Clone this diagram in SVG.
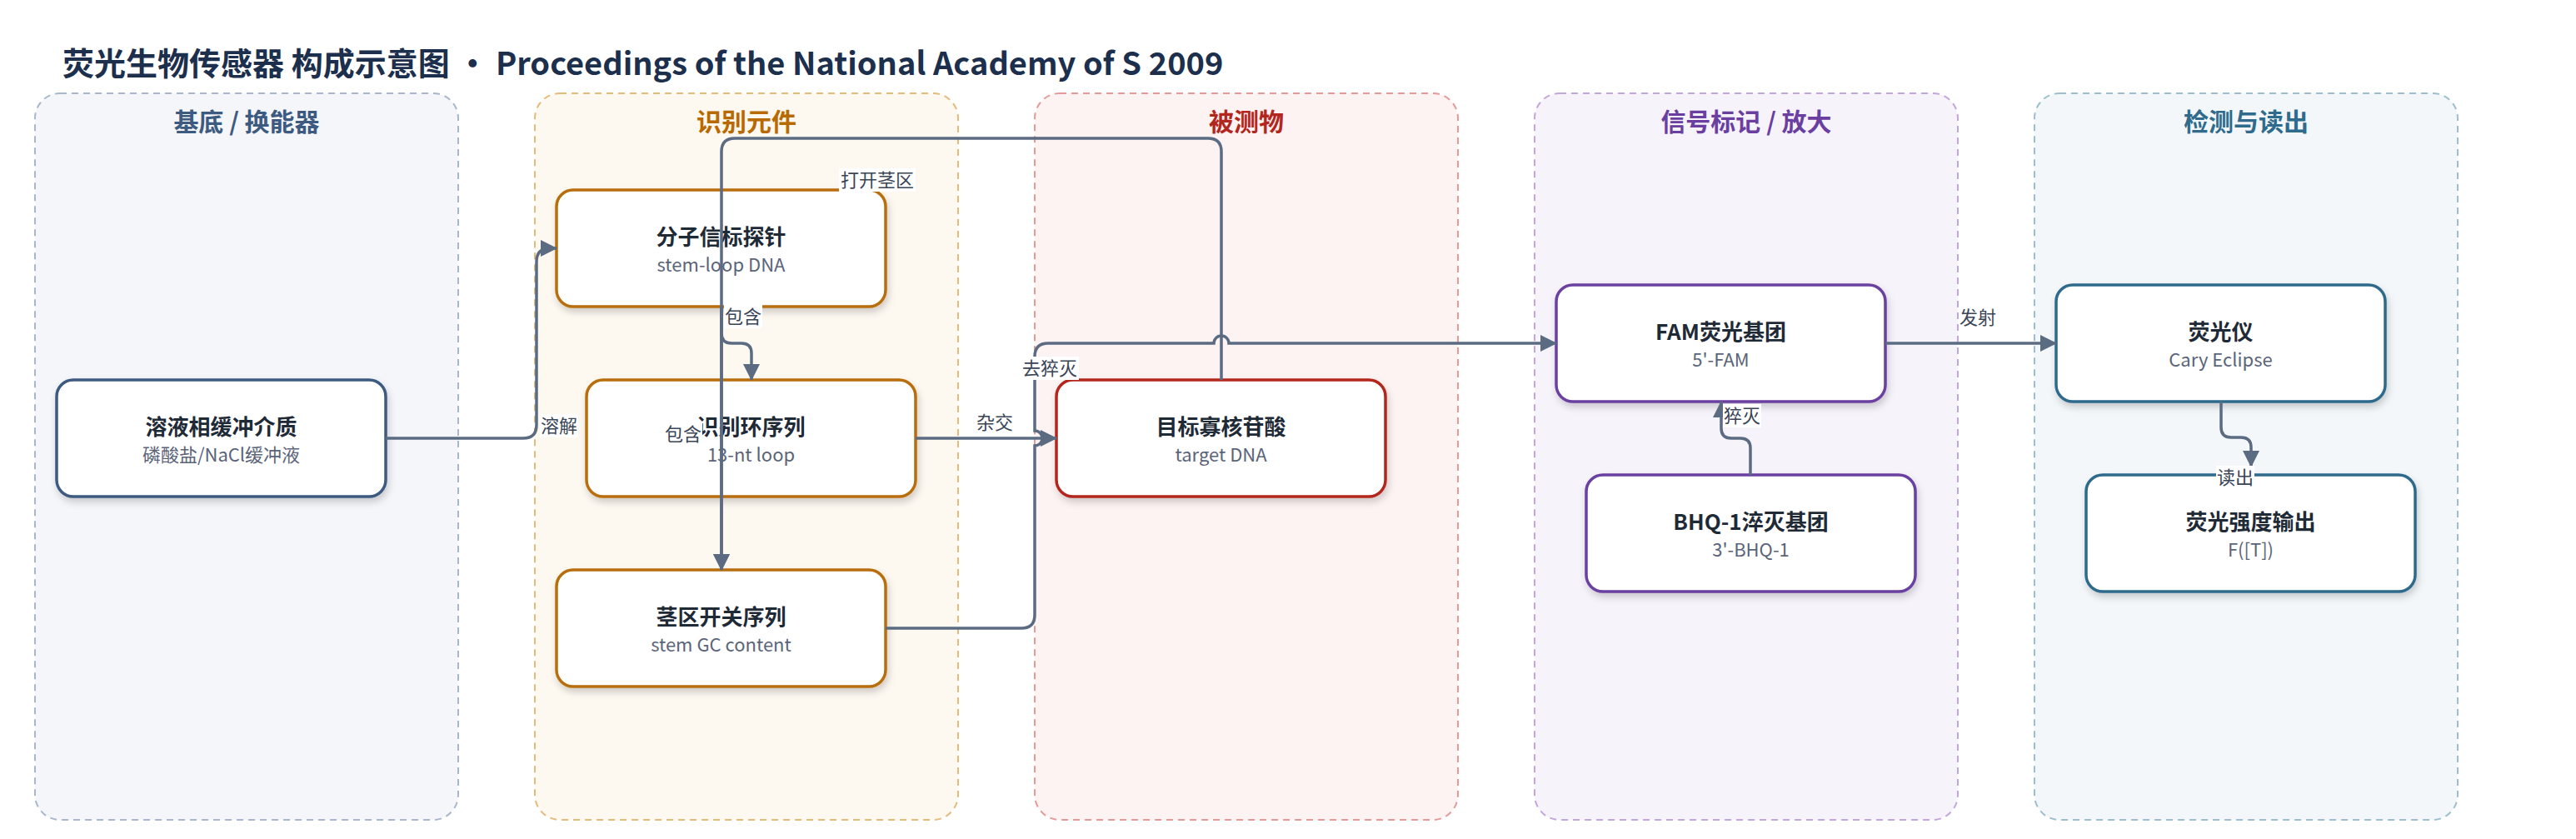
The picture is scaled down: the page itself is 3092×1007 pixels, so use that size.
<svg xmlns="http://www.w3.org/2000/svg" width="3092" height="1007" viewBox="0 0 3092 1007">
<style>
text{font-family:"Noto Sans CJK SC","Noto Sans",sans-serif}
.ttl{font-size:38px;font-weight:700;fill:#1c2f4d}
.col{stroke-width:2;stroke-dasharray:8 6}
.colt{font-size:30px;font-weight:700;text-anchor:middle}
.node{fill:#fff;stroke-width:3.5;filter:url(#sh)}
.nt{font-size:26px;font-weight:700;fill:#1f2a37;text-anchor:middle}
.ns{font-size:22px;fill:#5b6478;text-anchor:middle}
.e{fill:none;stroke:#5b6b82;stroke-width:3.5}
.lb{fill:#fff}
.lt{font-size:22px;fill:#3a4556;text-anchor:middle}
</style>
<defs>
<filter id="sh" x="-10%" y="-20%" width="125%" height="150%">
<feDropShadow dx="2" dy="5" stdDeviation="4" flood-color="#000" flood-opacity="0.18"/>
</filter>
<marker id="ah" viewBox="0 0 20 20" refX="19" refY="10" markerWidth="20" markerHeight="20" markerUnits="userSpaceOnUse" orient="auto">
<path d="M0,0 L20,10 L0,20 z" fill="#5b6b82"/>
</marker>
</defs>
<rect width="3092" height="1007" fill="#fff"/>
<text class="ttl" x="75" y="90">荧光生物传感器 构成示意图 • Proceedings of the National Academy of S 2009</text>

<g id="col-substrate">
<rect class="col" x="42" y="112" width="508" height="872" rx="30" fill="#f4f6fa" stroke="#a9b7cc"/>
<text class="colt" x="296" y="157" fill="#3d5a80">基底 / 换能器</text>
</g>
<g id="col-recognition">
<rect class="col" x="642" y="112" width="508" height="872" rx="30" fill="#fdf8f0" stroke="#e5bb7c"/>
<text class="colt" x="896" y="157" fill="#b86a00">识别元件</text>
</g>
<g id="col-analyte">
<rect class="col" x="1242" y="112" width="508" height="872" rx="30" fill="#fdf3f2" stroke="#e49a98"/>
<text class="colt" x="1496" y="157" fill="#b3261e">被测物</text>
</g>
<g id="col-signal">
<rect class="col" x="1842" y="112" width="508" height="872" rx="30" fill="#f7f3fb" stroke="#c3a6dc"/>
<text class="colt" x="2096" y="157" fill="#6a3fa0">信号标记 / 放大</text>
</g>
<g id="col-readout">
<rect class="col" x="2442" y="112" width="508" height="872" rx="30" fill="#f3f7f9" stroke="#9dbfcd"/>
<text class="colt" x="2696" y="157" fill="#2e6b8c">检测与读出</text>
</g>

<g id="n-buffer">
<rect class="node" x="68" y="456" width="395" height="140" rx="20" stroke="#3d5a80"/>
<text class="nt" x="265.5" y="522">溶液相缓冲介质</text>
<text class="ns" x="265.5" y="554">磷酸盐/NaCl缓冲液</text>
</g>
<g id="n-beacon">
<rect class="node" x="668" y="228" width="395" height="140" rx="20" stroke="#b86e0a"/>
<text class="nt" x="865.5" y="294">分子信标探针</text>
<text class="ns" x="865.5" y="326">stem-loop DNA</text>
</g>
<g id="n-loop">
<rect class="node" x="704" y="456" width="395" height="140" rx="20" stroke="#b86e0a"/>
<text class="nt" x="901.5" y="522">识别环序列</text>
<text class="ns" x="901.5" y="554">13-nt loop</text>
</g>
<g id="n-stem">
<rect class="node" x="668" y="684" width="395" height="140" rx="20" stroke="#b86e0a"/>
<text class="nt" x="865.5" y="750">茎区开关序列</text>
<text class="ns" x="865.5" y="782">stem GC content</text>
</g>
<g id="n-target">
<rect class="node" x="1268" y="456" width="395" height="140" rx="20" stroke="#b3261e"/>
<text class="nt" x="1465.5" y="522">目标寡核苷酸</text>
<text class="ns" x="1465.5" y="554">target DNA</text>
</g>
<g id="n-fam">
<rect class="node" x="1868" y="342" width="395" height="140" rx="20" stroke="#6a3fa0"/>
<text class="nt" x="2065.5" y="408">FAM荧光基团</text>
<text class="ns" x="2065.5" y="440">5'-FAM</text>
</g>
<g id="n-bhq">
<rect class="node" x="1904" y="570" width="395" height="140" rx="20" stroke="#6a3fa0"/>
<text class="nt" x="2101.5" y="636">BHQ-1淬灭基团</text>
<text class="ns" x="2101.5" y="668">3'-BHQ-1</text>
</g>
<g id="n-fluorometer">
<rect class="node" x="2468" y="342" width="395" height="140" rx="20" stroke="#2e6b8c"/>
<text class="nt" x="2665.5" y="408">荧光仪</text>
<text class="ns" x="2665.5" y="440">Cary Eclipse</text>
</g>
<g id="n-output">
<rect class="node" x="2504" y="570" width="395" height="140" rx="20" stroke="#2e6b8c"/>
<text class="nt" x="2701.5" y="636">荧光强度输出</text>
<text class="ns" x="2701.5" y="668">F([T])</text>
</g>

<g id="connectors">
<path class="e" marker-end="url(#ah)" d="M463,526 H628 Q644,526 644,510 V314 Q644,298 660,298 H668"/>
<path class="e" marker-end="url(#ah)" d="M866,368 V400 Q866,412 878,412 H890 Q902,412 902,424 V456"/>
<path class="e" marker-end="url(#ah)" d="M866,368 V684"/>
<path class="e" marker-end="url(#ah)" d="M1099,526 H1268"/>
<path class="e" marker-end="url(#ah)" d="M1466,456 V182 Q1466,166 1450,166 H882 Q866,166 866,182 V684"/>
<path class="e" marker-end="url(#ah)" d="M1063,754 H1226 Q1242,754 1242,738 V535 A9,9 0 0 0 1242,517 V428 Q1242,412 1258,412 H1457 A9,9 0 0 1 1475,412 H1868"/>
<path class="e" marker-end="url(#ah)" d="M2101,570 V538 Q2101,526 2089,526 H2078 Q2066,526 2066,514 V482"/>
<path class="e" marker-end="url(#ah)" d="M2263,412 H2468"/>
<path class="e" marker-end="url(#ah)" d="M2666,482 V513 Q2666,525 2678,525 H2690 Q2702,525 2702,537 V560"/>

<rect class="lb" x="648" y="497" width="46" height="28"/>
<text class="lt" x="671" y="519">溶解</text>
<rect class="lb" x="869" y="366" width="46" height="28"/>
<text class="lt" x="892" y="388">包含</text>
<rect class="lb" x="797" y="507" width="46" height="28"/>
<text class="lt" x="820" y="529">包含</text>
<rect class="lb" x="1171" y="493" width="46" height="28"/>
<text class="lt" x="1194" y="515">杂交</text>
<rect class="lb" x="1007" y="202" width="92" height="28"/>
<text class="lt" x="1053" y="224">打开茎区</text>
<rect class="lb" x="1226" y="428" width="69" height="28"/>
<text class="lt" x="1260" y="450">去猝灭</text>
<rect class="lb" x="2068" y="485" width="46" height="28"/>
<text class="lt" x="2091" y="507">猝灭</text>
<rect class="lb" x="2351" y="367" width="46" height="28"/>
<text class="lt" x="2374" y="389">发射</text>
<rect class="lb" x="2660" y="559" width="46" height="28"/>
<text class="lt" x="2683" y="581">读出</text>
</g>
</svg>
